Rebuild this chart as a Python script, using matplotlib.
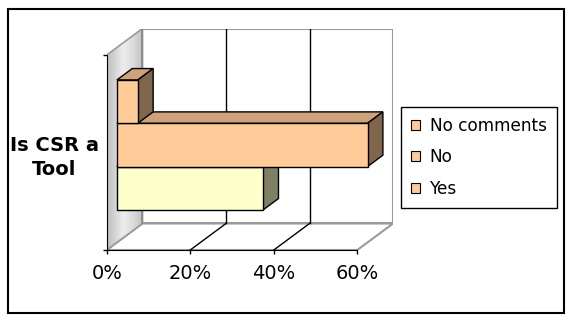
import numpy as np
import matplotlib
matplotlib.use("Agg")
import matplotlib.pyplot as plt
from matplotlib.patches import Polygon, Rectangle
from matplotlib.ticker import PercentFormatter
from matplotlib.colors import to_rgb

# data
category = "Is CSR a\nTool"
series = ["Yes", "No", "No comments"]
values = [35, 60, 5]
front_colors = ["#FFFFCC", "#FFCC99", "#FFCC99"]
xticks = [0, 20, 40, 60]

# oblique 3d look (depth offset in data units)
XMAX, YMAX = 60, 4.5
DX, DY = 8.57, 0.612
F0, F1 = 0.285, 0.715  # bar front / back depth
GAP = 0.75

W, H = 573, 321
fig = plt.figure(figsize=(W / 100, H / 100), dpi=100)
ax = fig.add_axes([106.7 / W, 71 / H, (250.6 + 35.8) / W, (195 + 26.5) / H])
ax.set_xlim(0, XMAX + DX)
ax.set_ylim(0, YMAX + DY)
ax.patch.set_visible(False)

grey = "#9a9a9a"

# floor and back wall
ax.add_patch(Polygon([(0, 0), (XMAX, 0), (XMAX + DX, DY), (DX, DY)],
                     fc="white", ec=grey, lw=1.5, zorder=1))
ax.add_patch(Rectangle((DX, DY), XMAX, YMAX, fc="white", ec=grey, lw=1.5, zorder=1))

# left wall with gradient
wall = Polygon([(0, 0), (DX, DY), (DX, YMAX + DY), (0, YMAX)],
               fc="none", ec=grey, lw=1.2, zorder=2)
ax.add_patch(wall)
t = np.linspace(0, 1, 64)
shade = np.interp(t, [0, 0.15, 0.45, 0.75, 1], [0.76, 0.80, 0.93, 0.85, 0.76])
im = ax.imshow(shade[None, :], cmap="gray", vmin=0, vmax=1, aspect="auto",
               extent=[0, DX, 0, YMAX + DY], origin="lower", zorder=1.5)
im.set_clip_path(wall)
ax.plot([DX, DX], [DY, YMAX + DY], color="#888888", lw=1.2, zorder=2)

# gridlines
for v in xticks[1:-1]:
    ax.plot([v + DX, v + DX], [DY, YMAX + DY], color="black", lw=1, zorder=2)
    ax.plot([v, v + DX], [0, DY], color="black", lw=1, zorder=2)

# bars
ox, oy = F0 * DX, F0 * DY
bx, by = F1 * DX, F1 * DY
for i, (v, c) in enumerate(zip(values, front_colors)):
    y0 = GAP + i
    rgb = np.array(to_rgb(c))
    front = [(ox, y0 + oy), (v + ox, y0 + oy), (v + ox, y0 + 1 + oy), (ox, y0 + 1 + oy)]
    top = [(ox, y0 + 1 + oy), (v + ox, y0 + 1 + oy), (v + bx, y0 + 1 + by), (bx, y0 + 1 + by)]
    side = [(v + ox, y0 + oy), (v + bx, y0 + by), (v + bx, y0 + 1 + by), (v + ox, y0 + 1 + oy)]
    z = 3 + i
    ax.add_patch(Polygon(top, fc=rgb * 0.8, ec="black", lw=1, zorder=z))
    ax.add_patch(Polygon(side, fc=rgb * 0.5, ec="black", lw=1, zorder=z))
    ax.add_patch(Polygon(front, fc=c, ec="black", lw=1, zorder=z))

# axes
for s in ["top", "right"]:
    ax.spines[s].set_visible(False)
ax.spines["bottom"].set_bounds(0, XMAX)
ax.spines["left"].set_bounds(0, YMAX)
ax.spines["bottom"].set_zorder(10)
ax.spines["left"].set_zorder(10)
ax.set_xticks(xticks)
ax.xaxis.set_major_formatter(PercentFormatter(decimals=0))
ax.tick_params(axis="x", length=3, width=1, pad=7, labelsize=14)
ax.set_yticks([YMAX / 2], labels=[category])
ax.set_yticks([0, YMAX], minor=True)
ax.tick_params(axis="y", which="major", length=0, pad=5.5)
ax.tick_params(axis="y", which="minor", length=3, width=1)
for lbl in ax.get_yticklabels():
    lbl.set_fontsize(14)
    lbl.set_fontweight("bold")
    lbl.set_multialignment("center")
    lbl.set_linespacing(1.35)

# legend
handles = [Rectangle((0, 0), 1, 1, fc="#FFCC99", ec="black", lw=0.8) for _ in series]
leg = fig.legend(handles[::-1], series[::-1], loc="upper left",
                 bbox_to_anchor=(401 / W, 1 - 107 / H), borderaxespad=0,
                 fancybox=False, edgecolor="black", framealpha=1, fontsize=12.2,
                 handlelength=0.55, handleheight=0.55, handletextpad=0.55,
                 labelspacing=0.78, borderpad=0.6)
leg.get_frame().set_linewidth(1.0)

# outer frame
fig.add_artist(Rectangle((7.7 / W, (H - 313.3) / H), (564.3 - 7.7) / W, (313.3 - 9.3) / H,
                         transform=fig.transFigure, fill=False, ec="black", lw=1.5))

fig.savefig("out.png", dpi=100)
